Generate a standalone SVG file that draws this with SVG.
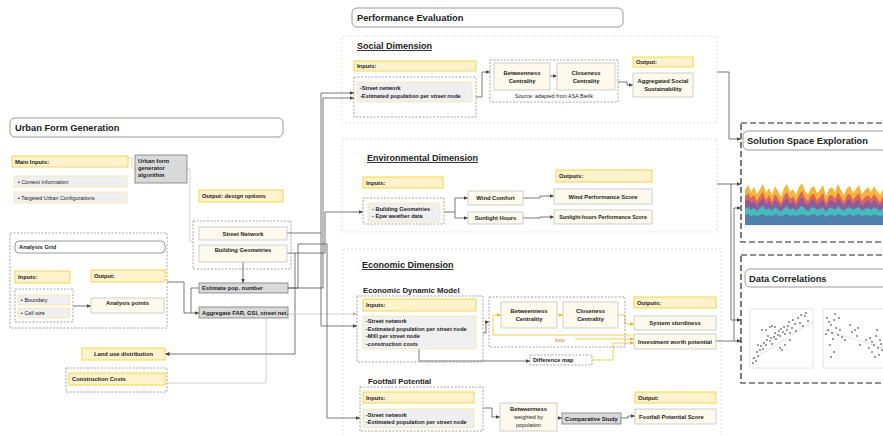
<svg xmlns="http://www.w3.org/2000/svg" width="883" height="436" viewBox="0 0 883 436">
<style>
text{font-family:"Liberation Sans",Arial,sans-serif;fill:#222}
.sb{font-size:5.8px;font-weight:bold}
.sm{font-size:5.6px;font-weight:bold}
.sr{font-size:5.4px}
.h{font-size:9.3px;font-weight:bold}
.hu{font-size:9px;font-weight:bold;text-decoration:underline}
.h2{font-size:7.8px;font-weight:bold}
.mid{text-anchor:middle}
.y{fill:#fff2cc;stroke:#f5d547;stroke-width:1}
.c{fill:#fdf9ec;stroke:#c4c4c4;stroke-width:0.8}
.g{fill:#d9d9d9;stroke:#7a7a7a;stroke-width:0.8}
.l{fill:#efefef;stroke:#f8e6a6;stroke-width:0.8}
.d{fill:none;stroke:#808080;stroke-width:0.7;stroke-dasharray:2 1.5}
.od{fill:none;stroke:#d3d3d3;stroke-width:0.7;stroke-dasharray:2 2}
.t{fill:#fff;stroke:#808080;stroke-width:0.8}
.bd{fill:none;stroke:#222;stroke-width:1.2;stroke-dasharray:6 3}
.cn{fill:none;stroke:#555;stroke-width:0.8}
.cl{fill:none;stroke:#c6c6c6;stroke-width:0.8}
.cy{fill:none;stroke:#f0c419;stroke-width:0.8}
.pt{fill:#222}
</style>
<defs>
<marker id="a" markerUnits="userSpaceOnUse" markerWidth="5" markerHeight="5" refX="4.5" refY="2.5" orient="auto"><path d="M0,0.5 L4.5,2.5 L0,4.5 z" fill="#444"/></marker>
<marker id="ay" markerUnits="userSpaceOnUse" markerWidth="5" markerHeight="5" refX="4.5" refY="2.5" orient="auto"><path d="M0,0.5 L4.5,2.5 L0,4.5 z" fill="#e8bb10"/></marker>
<marker id="al" markerUnits="userSpaceOnUse" markerWidth="5" markerHeight="5" refX="4.5" refY="2.5" orient="auto"><path d="M0,0.5 L4.5,2.5 L0,4.5 z" fill="#b0b0b0"/></marker>
</defs>
<rect width="883" height="436" fill="#fff"/>

<!-- containers -->
<g id="containers">
<rect class="od" x="342" y="36" width="375" height="87"/>
<rect class="od" x="342" y="139" width="375" height="93"/>
<rect class="od" x="343" y="249" width="378" height="195"/>
<rect class="d" x="10" y="233" width="157" height="95"/>
<rect class="d" x="193" y="221" width="98" height="48"/>
<rect class="bd" x="741" y="123" width="150" height="119"/>
<rect class="bd" x="741" y="255" width="150" height="128"/>
</g>

<!-- connectors -->
<g id="connectors">
<path class="cl" d="M128,158 H132 V168 H135"/>
<path class="cl" d="M187,169 H190 V242 H193"/>
<path class="cn" d="M243,262 V283" marker-end="url(#a)"/>
<path class="cn" d="M73,306 H91" marker-end="url(#a)"/>
<path class="cn" d="M167,282 H184 V313 H199" marker-end="url(#a)"/>
<path class="cn" d="M199,288 H191 V313"/>
<path class="cn" d="M287,253 H295 V354 H165" marker-end="url(#a)"/>
<path class="cl" d="M167,383 H266 V314 H357" marker-end="url(#al)"/>
<path class="cn" d="M287,233 H321 V93 H354" marker-end="url(#a)"/>
<path class="cn" d="M321,233 V326 H357" marker-end="url(#a)"/>
<path class="cn" d="M288,288 H323 V98 H354" marker-end="url(#a)"/>
<path class="cn" d="M295,253 H325 V212 H363" marker-end="url(#a)"/>
<path class="cn" d="M288,288 H298 V244 H327 V418 H360" marker-end="url(#a)"/>
<!-- social -->
<path class="cn" d="M476,97 H482 V72 H490" marker-end="url(#a)"/>
<path class="cn" d="M550,76 H557" marker-end="url(#a)"/>
<path class="cn" d="M618,82 H627 V85 H633" marker-end="url(#a)"/>
<!-- environmental -->
<path class="cn" d="M444,212 H455 M455,198 V218"/>
<path class="cn" d="M455,198 H468" marker-end="url(#a)"/>
<path class="cn" d="M455,218 H468" marker-end="url(#a)"/>
<path class="cn" d="M523,198 H540 V196 H554" marker-end="url(#a)"/>
<path class="cn" d="M523,218 H540 V217 H554" marker-end="url(#a)"/>
<!-- economic -->
<path class="cn" d="M483,333 H486 V322 H489" marker-end="url(#a)"/>
<path class="cy" d="M557,315 H563" marker-end="url(#ay)"/>
<path class="cy" d="M618,315 H625 V324 H634" marker-end="url(#ay)"/>
<path class="cy" d="M633,335 H493 V315 H501" marker-end="url(#ay)"/>
<path class="cy" d="M575,339 H634" marker-end="url(#ay)"/>
<path class="cy" d="M592,360 H613 V343 H634" marker-end="url(#ay)"/>
<path class="cn" d="M419,349 V361 H530" marker-end="url(#a)"/>
<!-- footfall -->
<path class="cn" d="M483,408 H492 V417 H500" marker-end="url(#a)"/>
<path class="cn" d="M557,418 H562" marker-end="url(#a)"/>
<path class="cn" d="M621,418 H628 V416 H635" marker-end="url(#a)"/>
<!-- to analysis -->
<path class="cn" d="M717,72 H729 V139 H741" marker-end="url(#a)"/>
<path class="cn" d="M717,184 H741" marker-end="url(#a)"/>
<path class="cn" d="M731,184 V320 H741" marker-end="url(#a)"/>
<path class="cn" d="M716,341 H741" marker-end="url(#a)"/>
<path class="cn" d="M734,341 V208 H741" marker-end="url(#a)"/>
</g>

<!-- Urban form generation -->
<g id="urban-form-generation">
<rect class="t" x="10" y="118" width="273" height="19" rx="5"/>
<text class="h" x="15" y="131">Urban Form Generation</text>
</g>
<g id="main-inputs">
<rect class="y" x="12" y="156" width="116" height="11"/>
<text class="sb" x="15" y="163.5">Main Inputs:</text>
</g>
<g id="context-information">
<rect class="l" x="14" y="176" width="113" height="11"/>
<text class="sr" x="18" y="183.5">▪  Context Information</text>
</g>
<g id="targeted-urban-configurations">
<rect class="l" x="14" y="192" width="113" height="11"/>
<text class="sr" x="18" y="199.5">▪  Targeted Urban Configurations</text>
</g>
<g id="generator">
<rect class="g" x="135" y="155" width="52" height="28"/>
<text class="sb" x="138" y="162.5">Urban form</text>
<text class="sb" x="138" y="169.5">generator</text>
<text class="sb" x="138" y="176.5">algorithm</text>
</g>
<g id="output-design-options">
<rect class="y" x="199" y="190" width="84" height="12"/>
<text class="sb" x="202" y="198">Output: design options</text>
</g>
<g id="street-network">
<rect class="c" x="199" y="227" width="88" height="13"/>
<text class="sb mid" x="243" y="235.5">Street Network</text>
</g>
<g id="building-geometries">
<rect class="c" x="199" y="245" width="88" height="17"/>
<text class="sb mid" x="243" y="252">Building Geometries</text>
</g>
<g id="estimate-pop">
<rect class="g" x="199" y="283" width="89" height="10"/>
<text class="sb" x="202" y="290.2">Estimate pop. number</text>
</g>
<g id="aggregate">
<rect class="g" x="199" y="307" width="89" height="11"/>
<text class="sb" x="202" y="314.7">Aggregate FAR, GSI, street net.</text>
</g>

<!-- analysis grid -->
<g id="analysis-grid">
<rect class="t" x="15" y="241" width="150" height="12" rx="4"/>
<text class="sb" x="19" y="249.2">Analysis Grid</text>
</g>
<g id="grid-inputs">
<rect class="y" x="15" y="271" width="55" height="12"/>
<text class="sb" x="18" y="279">Inputs:</text>
</g>
<g id="grid-output">
<rect class="y" x="91" y="270" width="74" height="12"/>
<text class="sb" x="94" y="278">Output:</text>
</g>
<g id="grid-params">
<rect class="d" x="15" y="289" width="58" height="33"/>
<rect class="l" x="18" y="295" width="52" height="10"/>
<text class="sr" x="21" y="302">▪  Boundary</text>
<rect class="l" x="18" y="308" width="52" height="10"/>
<text class="sr" x="21" y="315">▪  Cell size</text>
</g>
<g id="analysis-points">
<rect class="c" x="91" y="298" width="73" height="15"/>
<text class="sb mid" x="127.5" y="305">Analysis points</text>
</g>
<g id="land-use">
<rect class="y" x="82" y="348" width="83" height="12"/>
<text class="sb mid" x="123.5" y="356.2">Land use distribution</text>
</g>
<g id="construction-costs">
<rect class="d" x="66" y="368" width="101" height="24"/>
<rect class="y" x="69" y="373" width="96" height="12"/>
<text class="sb" x="72" y="381">Construction Costs</text>
</g>

<!-- performance evaluation -->
<g id="performance-evaluation">
<rect class="t" x="352" y="8" width="271" height="19" rx="5"/>
<text class="h" x="357" y="21">Performance Evaluation</text>
</g>

<!-- social -->
<g id="social-title"><text class="hu" x="357" y="49">Social  Dimension</text></g>
<g id="social-inputs">
<rect class="y" x="354" y="61" width="122" height="10"/>
<text class="sb" x="357" y="68">Inputs:</text>
</g>
<g id="social-input-list">
<rect class="d" x="354" y="77" width="122" height="40"/>
<rect class="l" x="357" y="82" width="115" height="20"/>
<text class="sm" x="360" y="90">-Street network</text>
<text class="sm" x="360" y="98">-Estimated population per street node</text>
</g>
<g id="social-centrality">
<rect class="d" x="490" y="60" width="128" height="42"/>
<text class="sr mid" x="554" y="98">Source: adapted from ASA Bielik</text>
</g>
<g id="social-betweenness">
<rect class="c" x="494" y="63" width="56" height="27"/>
<text class="sb mid" x="522" y="74.5">Betweenness</text>
<text class="sb mid" x="522" y="82.5">Centrality</text>
</g>
<g id="social-closeness">
<rect class="c" x="557" y="63" width="58" height="27"/>
<text class="sb mid" x="586" y="74.5">Closeness</text>
<text class="sb mid" x="586" y="82.5">Centrality</text>
</g>
<g id="social-output">
<rect class="y" x="633" y="57" width="60" height="10"/>
<text class="sb" x="636" y="64">Output:</text>
</g>
<g id="social-sustainability">
<rect class="c" x="633" y="73" width="60" height="24"/>
<text class="sb mid" x="663" y="83">Aggregated Social</text>
<text class="sb mid" x="663" y="91">Sustainability</text>
</g>

<!-- environmental -->
<g id="env-title"><text class="hu" x="367" y="161">Environmental  Dimension</text></g>
<g id="env-inputs">
<rect class="y" x="363" y="177" width="80" height="11"/>
<text class="sb" x="366" y="184.7">Inputs:</text>
</g>
<g id="env-input-list">
<rect class="d" x="363" y="198" width="81" height="26"/>
<rect class="l" x="368" y="203" width="72" height="19"/>
<text class="sm" x="372" y="210.5">-  Building Geometries</text>
<text class="sm" x="372" y="218">-  Epw weather data</text>
</g>
<g id="wind-comfort">
<rect class="c" x="468" y="191" width="55" height="14"/>
<text class="sb mid" x="495.5" y="200">Wind Comfort</text>
</g>
<g id="sunlight-hours">
<rect class="c" x="468" y="212" width="55" height="12"/>
<text class="sb mid" x="495.5" y="220.2">Sunlight Hours</text>
</g>
<g id="env-outputs">
<rect class="y" x="556" y="170" width="96" height="12"/>
<text class="sb" x="559" y="178">Outputs:</text>
</g>
<g id="wind-score">
<rect class="c" x="554" y="189" width="98" height="15"/>
<text class="sb mid" x="603" y="198.5">Wind Performance Score</text>
</g>
<g id="sunlight-score">
<rect class="c" x="554" y="210" width="98" height="14"/>
<text class="sm mid" x="603" y="219" style="font-size:5.3px">Sunlight-hours Performance Score</text>
</g>

<!-- economic -->
<g id="econ-title"><text class="hu" x="362" y="268">Economic  Dimension</text></g>
<g id="edm-title"><text class="h2" x="363" y="293">Economic Dynamic Model</text></g>
<g id="edm-inputs">
<rect class="d" x="357" y="296" width="126" height="66"/>
<rect class="y" x="363" y="299" width="113" height="12"/>
<text class="sb" x="366" y="307">Inputs:</text>
</g>
<g id="edm-input-list">
<rect class="l" x="363" y="316" width="113" height="33"/>
<text class="sm" x="366" y="323">-Street network</text>
<text class="sm" x="366" y="330.5">-Estimated population per street node</text>
<text class="sm" x="366" y="338">-MXI per street node</text>
<text class="sm" x="366" y="345.5">-construction costs</text>
</g>
<g id="edm-centrality">
<rect class="d" x="489" y="297" width="136" height="50"/>
<text class="sr mid" x="560" y="342" style="fill:#b8951a">loop</text>
</g>
<g id="edm-betweenness">
<rect class="c" x="501" y="302" width="56" height="26"/>
<text class="sb mid" x="529" y="313">Betweenness</text>
<text class="sb mid" x="529" y="321">Centrality</text>
</g>
<g id="edm-closeness">
<rect class="c" x="563" y="302" width="55" height="26"/>
<text class="sb mid" x="590.5" y="313">Closeness</text>
<text class="sb mid" x="590.5" y="321">Centrality</text>
</g>
<g id="difference-map">
<rect class="d" x="530" y="355" width="62" height="10"/>
<text class="sm" x="533" y="362.2">Difference map</text>
</g>
<g id="edm-outputs">
<rect class="y" x="634" y="297" width="82" height="11"/>
<text class="sb" x="637" y="304.7">Outputs:</text>
</g>
<g id="system-sturdiness">
<rect class="c" x="634" y="316" width="82" height="14"/>
<text class="sb mid" x="675" y="325">System sturdiness</text>
</g>
<g id="investment-worth">
<rect class="c" x="634" y="334" width="82" height="15"/>
<text class="sb mid" x="675" y="343.5">Investment worth potential</text>
</g>

<!-- footfall -->
<g id="footfall-title"><text class="h2" x="368" y="384">Footfall Potential</text></g>
<g id="footfall-inputs">
<rect class="d" x="360" y="387" width="123" height="44"/>
<rect class="y" x="363" y="392" width="111" height="11"/>
<text class="sb" x="366" y="400">Inputs:</text>
</g>
<g id="footfall-input-list">
<rect class="l" x="363" y="409" width="111" height="19"/>
<text class="sm" x="366" y="416.5">-Street network</text>
<text class="sm" x="366" y="424">-Estimated population per street node</text>
</g>
<g id="weighted-betweenness">
<rect class="c" x="500" y="403" width="57" height="28"/>
<text class="sb mid" x="528.5" y="411">Betweenness</text>
<text class="sr mid" x="528.5" y="419">weighted by</text>
<text class="sr mid" x="528.5" y="427">population</text>
</g>
<g id="comparative-study">
<rect class="g" x="562" y="413" width="59" height="11"/>
<text class="sb" x="565" y="420.5">Comparative Study</text>
</g>
<g id="footfall-output">
<rect class="y" x="635" y="392" width="81" height="11"/>
<text class="sb" x="638" y="400">Output:</text>
</g>
<g id="footfall-score">
<rect class="c" x="635" y="409" width="81" height="15"/>
<text class="sb" x="639" y="418.5">Footfall Potential Score</text>
</g>

<!-- solution space exploration -->
<g id="solution-space">
<rect class="t" x="743" y="131" width="150" height="19" rx="5"/>
<text class="h" x="747" y="144">Solution Space Exploration</text>
<polygon fill="#f5b53a" points="745,225 745,190 748,185 751,192 754,187 757,194 760,189 763,184 766,193 769,188 772,195 775,186 778,191 781,197 784,188 787,184 790,192 793,189 796,195 799,187 802,183 805,191 808,194 811,188 814,186 817,193 820,190 823,185 826,196 829,189 832,187 835,192 838,184 841,190 844,195 847,188 850,186 853,193 856,189 859,185 862,194 865,190 868,187 871,192 874,186 877,191 880,195 883,189 883,225"/>
<polygon fill="#df6459" points="745,225 745,197 748,193 751,198 754,195 757,201 760,196 763,192 766,200 769,195 772,202 775,194 778,198 781,203 784,196 787,192 790,199 793,196 796,202 799,195 802,191 805,198 808,201 811,195 814,194 817,200 820,197 823,193 826,203 829,196 832,195 835,199 838,192 841,197 844,202 847,195 850,194 853,200 856,196 859,193 862,201 865,197 868,195 871,199 874,194 877,198 880,202 883,196 883,225"/>
<polygon fill="#8c5c9c" points="745,225 745,202 748,199 751,203 754,201 757,206 760,201 763,198 766,205 769,200 772,206 775,200 778,203 781,207 784,201 787,198 790,204 793,201 796,206 799,200 802,197 805,203 808,205 811,200 814,199 817,205 820,202 823,199 826,207 829,201 832,200 835,204 838,198 841,202 844,206 847,200 850,199 853,205 856,201 859,199 862,206 865,202 868,200 871,204 874,199 877,203 880,206 883,201 883,225"/>
<polygon fill="#44bcbc" points="745,225 745,209 748,207 751,210 754,208 757,211 760,208 763,206 766,210 769,208 772,211 775,207 778,209 781,212 784,208 787,206 790,210 793,208 796,211 799,208 802,206 805,209 808,211 811,208 814,207 817,210 820,209 823,207 826,212 829,208 832,208 835,210 838,206 841,209 844,211 847,208 850,207 853,210 856,208 859,207 862,211 865,209 868,208 871,210 874,207 877,209 880,211 883,208 883,225"/>
<polygon fill="#4f7fad" points="745,225 745,215 748,214 751,216 754,215 757,216 760,215 763,214 766,216 769,215 772,216 775,214 778,215 781,217 784,215 787,214 790,216 793,215 796,216 799,215 802,214 805,215 808,216 811,215 814,214 817,216 820,215 823,214 826,217 829,215 832,215 835,216 838,214 841,215 844,216 847,215 850,214 853,216 856,215 859,214 862,216 865,215 868,215 871,216 874,214 877,215 880,216 883,215 883,225"/>
<path d="M745,226 H883" stroke="#ccc" stroke-width="0.5"/>
</g>

<!-- data correlations -->
<g id="data-correlations">
<rect class="t" x="745" y="269" width="150" height="18" rx="5"/>
<text class="h" x="749" y="282">Data Correlations</text>
<rect x="750" y="309" width="63" height="59" fill="#fff" stroke="#c8c8c8" stroke-width="0.5"/>
<path d="M752,360 L812,322" stroke="#cfcfcf" stroke-width="0.6"/>
<g class="pt">
<circle cx="753" cy="363" r="0.8"/><circle cx="754" cy="358" r="0.8"/><circle cx="756" cy="361" r="0.8"/><circle cx="758" cy="356" r="0.8"/><circle cx="757" cy="352" r="0.8"/><circle cx="760" cy="350" r="0.8"/><circle cx="761" cy="346" r="0.8"/><circle cx="763" cy="349" r="0.8"/><circle cx="764" cy="343" r="0.8"/><circle cx="766" cy="345" r="0.8"/><circle cx="767" cy="340" r="0.8"/><circle cx="768" cy="336" r="0.8"/><circle cx="770" cy="341" r="0.8"/><circle cx="771" cy="338" r="0.8"/><circle cx="772" cy="344" r="0.8"/><circle cx="774" cy="337" r="0.8"/><circle cx="775" cy="333" r="0.8"/><circle cx="776" cy="339" r="0.8"/><circle cx="778" cy="335" r="0.8"/><circle cx="779" cy="331" r="0.8"/><circle cx="780" cy="336" r="0.8"/><circle cx="781" cy="329" r="0.8"/><circle cx="783" cy="332" r="0.8"/><circle cx="784" cy="327" r="0.8"/><circle cx="785" cy="334" r="0.8"/><circle cx="787" cy="330" r="0.8"/><circle cx="788" cy="326" r="0.8"/><circle cx="789" cy="322" r="0.8"/><circle cx="790" cy="333" r="0.8"/><circle cx="792" cy="328" r="0.8"/><circle cx="793" cy="320" r="0.8"/><circle cx="795" cy="324" r="0.8"/><circle cx="796" cy="331" r="0.8"/><circle cx="798" cy="318" r="0.8"/><circle cx="800" cy="323" r="0.8"/><circle cx="801" cy="315" r="0.8"/><circle cx="803" cy="326" r="0.8"/><circle cx="805" cy="316" r="0.8"/><circle cx="806" cy="313" r="0.8"/><circle cx="808" cy="321" r="0.8"/><circle cx="770" cy="327" r="0.8"/><circle cx="772" cy="326" r="0.8"/><circle cx="766" cy="330" r="0.8"/><circle cx="775" cy="327" r="0.8"/><circle cx="780" cy="348" r="0.8"/><circle cx="782" cy="350" r="0.8"/><circle cx="762" cy="330" r="0.8"/><circle cx="758" cy="345" r="0.8"/><circle cx="785" cy="345" r="0.8"/><circle cx="790" cy="340" r="0.8"/>
</g>
<rect x="823" y="309" width="70" height="59" fill="#fff" stroke="#c8c8c8" stroke-width="0.5"/>
<path d="M825,330 L883,348" stroke="#cfcfcf" stroke-width="0.6"/>
<g class="pt">
<circle cx="827" cy="318" r="0.8"/><circle cx="829" cy="322" r="0.8"/><circle cx="831" cy="325" r="0.8"/><circle cx="828" cy="330" r="0.8"/><circle cx="832" cy="333" r="0.8"/><circle cx="834" cy="320" r="0.8"/><circle cx="836" cy="328" r="0.8"/><circle cx="838" cy="335" r="0.8"/><circle cx="840" cy="330" r="0.8"/><circle cx="842" cy="337" r="0.8"/><circle cx="833" cy="339" r="0.8"/><circle cx="830" cy="345" r="0.8"/><circle cx="826" cy="334" r="0.8"/><circle cx="835" cy="314" r="0.8"/><circle cx="839" cy="318" r="0.8"/><circle cx="845" cy="340" r="0.8"/><circle cx="850" cy="325" r="0.8"/><circle cx="852" cy="332" r="0.8"/><circle cx="855" cy="330" r="0.8"/><circle cx="858" cy="328" r="0.8"/><circle cx="857" cy="336" r="0.8"/><circle cx="860" cy="345" r="0.8"/><circle cx="866" cy="340" r="0.8"/><circle cx="870" cy="338" r="0.8"/><circle cx="872" cy="342" r="0.8"/><circle cx="874" cy="345" r="0.8"/><circle cx="876" cy="336" r="0.8"/><circle cx="878" cy="348" r="0.8"/><circle cx="880" cy="340" r="0.8"/><circle cx="872" cy="352" r="0.8"/><circle cx="875" cy="357" r="0.8"/><circle cx="879" cy="355" r="0.8"/><circle cx="882" cy="350" r="0.8"/><circle cx="869" cy="348" r="0.8"/><circle cx="834" cy="352" r="0.8"/><circle cx="831" cy="357" r="0.8"/><circle cx="877" cy="330" r="0.8"/><circle cx="881" cy="344" r="0.8"/>
</g>
</g>
</svg>
